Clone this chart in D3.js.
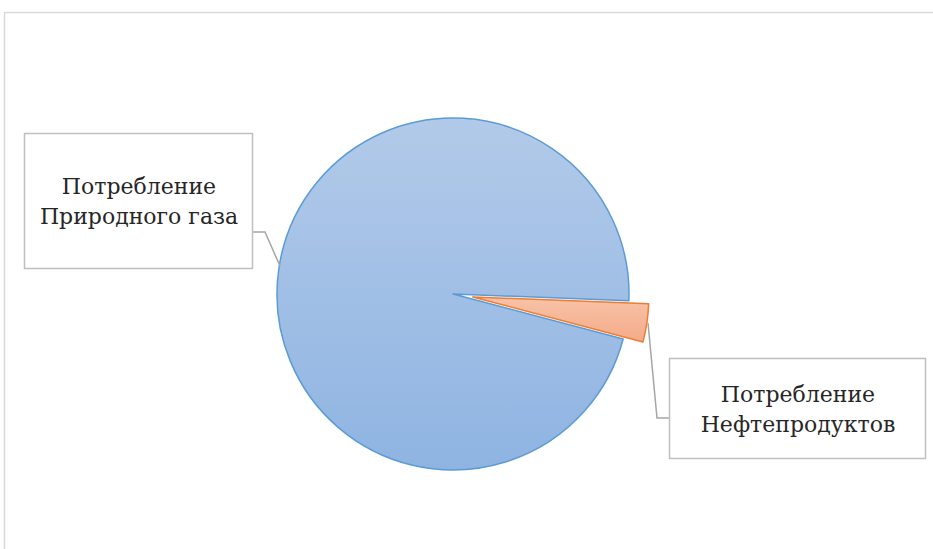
<!DOCTYPE html>
<html>
<head>
<meta charset="utf-8">
<script src="https://cdn.jsdelivr.net/npm/d3@7"></script>
<style>
  body { margin: 0; background: #fff; }
  svg { display: block; }
  .lbl { font-family: "DejaVu Serif", serif; font-size: 22px; fill: #262626; }
</style>
</head>
<body>
<script>
// data
const categories = ["Потребление Природного газа", "Потребление Нефтепродуктов"];
const values = [96.5, 3.5];
const labelLines = [["Потребление", "Природного газа"], ["Потребление", "Нефтепродуктов"]];

const width = 933, height = 549;
const cx = 453, cy = 294, radius = 176;
const explode = [0, 20];

const svg = d3.select("body").append("svg")
  .attr("width", width).attr("height", height);

const defs = svg.append("defs");
const grads = [
  { id: "gBlue", top: "#b2cae9", bottom: "#8fb4e2" },
  { id: "gOrange", top: "#f8c2a8", bottom: "#f4ab89" }
];
grads.forEach(g => {
  const lg = defs.append("linearGradient").attr("id", g.id)
    .attr("x1", 0).attr("y1", 0).attr("x2", 0).attr("y2", 1);
  lg.append("stop").attr("offset", "0%").attr("stop-color", g.top);
  lg.append("stop").attr("offset", "100%").attr("stop-color", g.bottom);
});

// chart border (runs off the right/bottom)
svg.append("rect")
  .attr("x", 4.5).attr("y", 12.5)
  .attr("width", width + 20).attr("height", height + 20)
  .attr("fill", "none").attr("stroke", "#d9d9d9").attr("stroke-width", 1.5);

const pie = d3.pie().sort(null)
  .startAngle(104.8 * Math.PI / 180)
  .endAngle(104.8 * Math.PI / 180 + 2 * Math.PI);
const arcs = pie(values);
const arc = d3.arc().innerRadius(0).outerRadius(radius);
const strokes = ["#5b9bd5", "#ed7d31"];
const fills = ["url(#gBlue)", "url(#gOrange)"];

const off = (d, i) => {
  const a = (d.startAngle + d.endAngle) / 2;
  return [Math.sin(a) * explode[i], -Math.cos(a) * explode[i]];
};

svg.selectAll("path.slice")
  .data(arcs)
  .enter()
  .append("path")
  .attr("class", "slice")
  .attr("transform", (d, i) => {
    const o = off(d, i);
    return `translate(${cx + o[0]},${cy + o[1]})`;
  })
  .attr("d", arc)
  .attr("fill", (_, i) => fills[i])
  .attr("stroke", (_, i) => strokes[i])
  .attr("stroke-width", 1.5)
  .attr("stroke-linejoin", "round");

// label boxes
const boxes = [
  { x: 24, y: 133, w: 228, h: 135 },
  { x: 669, y: 358, w: 256, h: 100 }
];
// leader lines (box edge -> elbow -> slice)
const leaders = [
  [[252, 232], [265, 232], [280, 266]],
  [[669, 418], [657, 418], [648, 323]]
];

svg.selectAll("polyline.leader")
  .data(leaders)
  .enter()
  .append("polyline")
  .attr("class", "leader")
  .attr("points", d => d.map(p => p.join(",")).join(" "))
  .attr("fill", "none")
  .attr("stroke", "#a6a6a6")
  .attr("stroke-width", 1.5);

const lbl = svg.selectAll("g.lbl")
  .data(categories)
  .enter()
  .append("g")
  .attr("transform", (_, i) => `translate(${boxes[i].x},${boxes[i].y})`);

lbl.append("rect")
  .attr("x", 0.5).attr("y", 0.5)
  .attr("width", (_, i) => boxes[i].w)
  .attr("height", (_, i) => boxes[i].h)
  .attr("fill", "#fff")
  .attr("stroke", "#bfbfbf")
  .attr("stroke-width", 1.5);

lbl.each(function (_, i) {
  const g = d3.select(this);
  const b = boxes[i];
  labelLines[i].forEach((t, k) => {
    g.append("text")
      .attr("class", "lbl")
      .attr("x", b.w / 2 + 1)
      .attr("y", b.h / 2 + (k - 0.5) * 30 + 1)
      .attr("dy", "0.35em")
      .attr("text-anchor", "middle")
      .text(t);
  });
});
</script>
</body>
</html>
